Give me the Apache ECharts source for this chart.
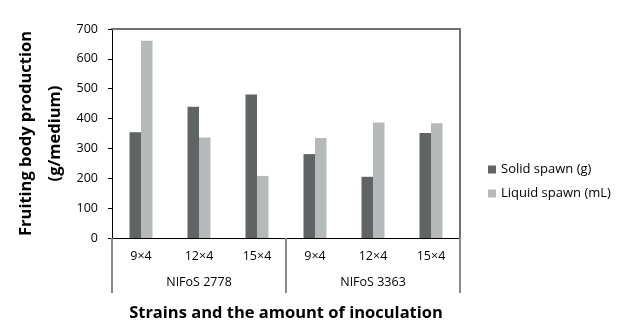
<!DOCTYPE html>
<html><head><meta charset="utf-8">
<script src="https://cdn.jsdelivr.net/npm/echarts@6/dist/echarts.min.js"></script>
<style>html,body{margin:0;padding:0;background:#fff}#c{width:617px;height:334px}</style>
</head><body><div id="c"></div>
<script>
const categories = ['9×4','12×4','15×4','9×4','12×4','15×4'];
const groups = ['NIFoS 2778','NIFoS 3363'];
const solid = [354, 440, 481, 281, 205, 352];
const liquid = [661, 337, 208, 335, 387, 384];
const yTicks = {min:0, max:700, interval:100};
const FONT = '"Open Sans", "Noto Sans", sans-serif';

const chart = echarts.init(document.getElementById('c'));
chart.setOption({
  animation:false,
  textStyle:{fontFamily:FONT},
  grid:{left:112, right:157, top:29, bottom:96, containLabel:false, outerBoundsMode:'none'},
  legend:{
    orient:'vertical', left:483, top:158, itemWidth:8, itemHeight:8, itemGap:11,
    icon:'rect',
    textStyle:{fontSize:13, color:'#000', fontFamily:FONT},
    data:['Solid spawn (g)','Liquid spawn (mL)']
  },
  xAxis:[
    {type:'category', data:categories, position:'bottom',
     axisLine:{lineStyle:{color:'#000', width:1}},
     axisTick:{show:false},
     axisLabel:{color:'#000', fontSize:12.5, margin:12}},
    {type:'category', data:groups, position:'bottom',
     axisLine:{show:false},
     axisTick:{show:true, alignWithLabel:false, length:55, lineStyle:{color:'#888', width:2}},
     axisLabel:{color:'#000', fontSize:12.5, margin:38},
     name:'Strains and the amount of inoculation', nameLocation:'middle', nameGap:67, nameMoveOverlap:false,
     nameTextStyle:{fontSize:16.5, fontWeight:'bold', color:'#000', fontFamily:FONT}},
    {type:'category', data:categories, position:'top',
     axisLine:{show:true, lineStyle:{color:'#707070', width:2}},
     axisTick:{show:false}, axisLabel:{show:false}}
  ],
  yAxis:[
    {type:'value', min:yTicks.min, max:yTicks.max, interval:yTicks.interval,
     axisLine:{show:true, lineStyle:{color:'#000'}},
     axisTick:{show:true, length:4, lineStyle:{color:'#000'}},
     splitLine:{show:false},
     axisLabel:{color:'#000', fontSize:12.5, margin:14},
     name:'Fruiting body production\n(g/medium)', nameLocation:'middle', nameRotate:90, nameGap:42, nameMoveOverlap:false,
     nameTextStyle:{fontSize:16.5, fontWeight:'bold', color:'#000', lineHeight:29, fontFamily:FONT}},
    {type:'value', min:yTicks.min, max:yTicks.max, position:'right',
     axisLine:{show:true, lineStyle:{color:'#707070', width:2}},
     axisTick:{show:false}, axisLabel:{show:false}, splitLine:{show:false}}
  ],
  series:[
    {name:'Solid spawn (g)', type:'bar', data:solid, barWidth:11.5, barGap:'0%',
     itemStyle:{color:'#606464'}},
    {name:'Liquid spawn (mL)', type:'bar', data:liquid, barWidth:11.5, barGap:'0%',
     itemStyle:{color:'#b5b9b9'}}
  ]
});
</script></body></html>
